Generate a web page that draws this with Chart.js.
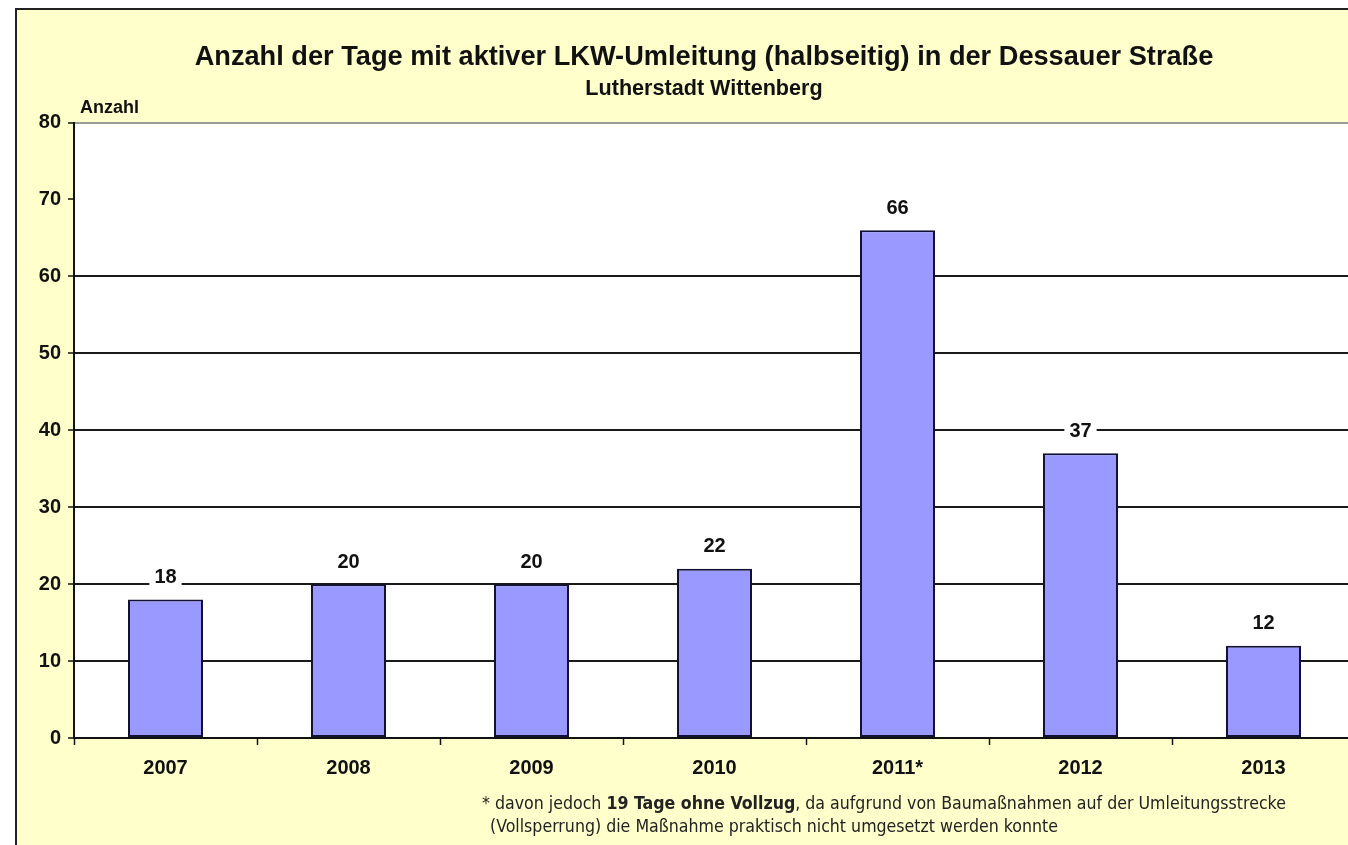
<!DOCTYPE html>
<html>
<head>
<meta charset="utf-8">
<script src="https://cdn.jsdelivr.net/npm/chart.js@4/dist/chart.umd.min.js"></script>
<style>
  html, body { margin: 0; padding: 0; background: #ffffff; width: 1348px; height: 845px; overflow: hidden; }
  #frame { position: absolute; left: 15px; top: 8px; width: 1400px; height: 860px;
           background: #FFFFCC; border-top: 2px solid #222; border-left: 2px solid #222; }
  #wrap { position: absolute; left: 17px; top: 10px; width: 1356px; height: 835px; }
  #note { position: absolute; left: 482px; top: 792px; font-family: "DejaVu Sans Condensed", "Liberation Sans Narrow", "Arial Narrow", Arial, sans-serif;
          font-size: 17.6px; line-height: 23px; color: #222; white-space: nowrap; }
  #note .l2 { padding-left: 8px; }
</style>
</head>
<body>
<div id="frame"></div>
<div id="wrap"><canvas id="c" width="1356" height="835"></canvas></div>
<div id="note">* davon jedoch <b>19 Tage ohne Vollzug</b>, da aufgrund von Baumaßnahmen auf der Umleitungsstrecke<br><span class="l2">(Vollsperrung) die Maßnahme praktisch nicht umgesetzt werden konnte</span></div>
<script>
const years = ["2007", "2008", "2009", "2010", "2011*", "2012", "2013"];
const days = [18, 20, 20, 22, 66, 37, 12];
const titleText = "Anzahl der Tage mit aktiver LKW-Umleitung (halbseitig) in der Dessauer Straße";
const subtitleText = "Lutherstadt Wittenberg";
const yAxisLabel = "Anzahl";

const FONT = "'Liberation Sans', Arial, Helvetica, sans-serif";

const plotBg = {
  id: 'plotBg',
  beforeDraw(chart) {
    const a = chart.chartArea, ctx = chart.ctx;
    ctx.save();
    ctx.fillStyle = '#ffffff';
    ctx.fillRect(a.left, a.top, a.right - a.left, a.bottom - a.top);
    ctx.restore();
  },
  afterDraw(chart) {
    const a = chart.chartArea, ctx = chart.ctx;
    ctx.save();
    ctx.font = "bold 18px " + FONT;
    ctx.fillStyle = '#111';
    ctx.textAlign = 'left';
    ctx.textBaseline = 'middle';
    ctx.fillText(yAxisLabel, a.left + 6, a.top - 15);
    ctx.restore();
  }
};

const valueLabels = {
  id: 'valueLabels',
  afterDatasetsDraw(chart) {
    const ctx = chart.ctx;
    const meta = chart.getDatasetMeta(0);
    ctx.save();
    ctx.font = "bold 20px " + FONT;
    ctx.textAlign = 'center';
    ctx.textBaseline = 'middle';
    meta.data.forEach((bar, i) => {
      const txt = String(chart.data.datasets[0].data[i]);
      const w = ctx.measureText(txt).width;
      const cy = bar.y - 22;
      ctx.fillStyle = '#ffffff';
      ctx.fillRect(bar.x - w / 2 - 5, cy - 11, w + 10, 22);
      ctx.fillStyle = '#111';
      ctx.fillText(txt, bar.x, cy);
    });
    ctx.restore();
  }
};

new Chart(document.getElementById('c'), {
  type: 'bar',
  data: {
    labels: years,
    datasets: [{
      data: days,
      yAxisID: 'y',
      backgroundColor: '#9999FF',
      borderColor: '#111133',
      borderWidth: 2,
      borderSkipped: false,
      barPercentage: 0.41,
      categoryPercentage: 1.0
    }]
  },
  options: {
    responsive: false,
    animation: false,
    devicePixelRatio: 1,
    layout: { padding: { left: 18, right: 0, top: 0, bottom: 0 } },
    plugins: {
      legend: { display: false },
      tooltip: { enabled: false },
      title: {
        display: true, text: titleText, color: '#111',
        font: { family: FONT, size: 27.2, weight: 'bold' },
        padding: { top: 31, bottom: 2 }
      },
      subtitle: {
        display: true, text: subtitleText, color: '#111',
        font: { family: FONT, size: 21.6, weight: 'bold' },
        padding: { top: 0, bottom: 21 }
      }
    },
    scales: {
      x: {
        offset: true,
        grid: { display: true, offset: true, drawOnChartArea: false, drawTicks: true,
                tickLength: 7, tickColor: '#111', tickWidth: 1.5, color: 'rgba(0,0,0,0)' },
        border: { display: true, color: '#111', width: 2 },
        ticks: { color: '#111', padding: 11, font: { family: FONT, size: 20, weight: 'bold' } },
        afterFit(scale) { scale.height = 107; }
      },
      y: {
        position: 'left',
        min: 0, max: 80,
        ticks: { stepSize: 10, color: '#111', padding: 7, font: { family: FONT, size: 20, weight: 'bold' } },
        grid: {
          color: (ctx) => {
            const v = ctx.tick && ctx.tick.value;
            if (v === 80) return '#9a9a9a';
            if (v >= 10 && v <= 60) return '#1a1a1a';
            return 'rgba(0,0,0,0)';
          },
          lineWidth: 2,
          tickLength: 6, tickColor: '#111', tickWidth: 1.5
        },
        border: { display: true, color: '#111', width: 2 },
        afterFit(scale) { scale.width = 39; }
      },
      yRight: {
        position: 'right',
        display: true,
        grid: { display: false, drawTicks: false },
        border: { display: false },
        ticks: { display: false },
        afterFit(scale) { scale.width = 18; }
      }
    }
  },
  plugins: [plotBg, valueLabels]
});
</script>
</body>
</html>
